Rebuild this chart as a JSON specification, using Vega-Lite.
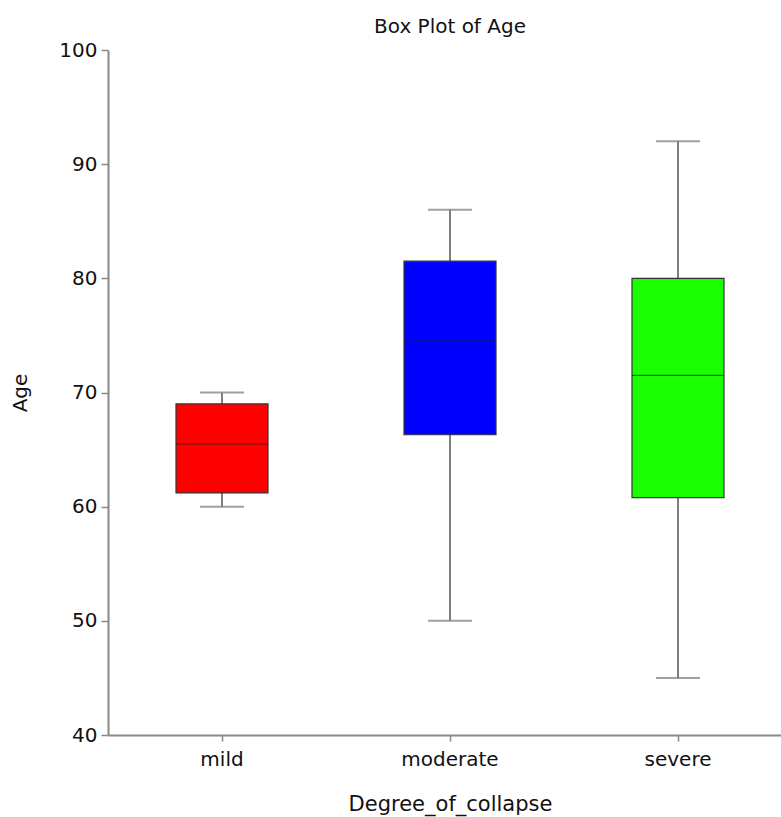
{
  "$schema": "https://vega.github.io/schema/vega-lite/v6.json",
  "autosize": {"type": "none"},
  "padding": {"left": 108, "top": 50, "right": 0, "bottom": 82},
  "width": 684,
  "height": 685,
  "background": "white",
  "title": {"text": "Box Plot of Age", "fontSize": 20, "fontWeight": "normal", "font": "DejaVu Sans", "color": "#111", "anchor": "middle", "offset": 3},
  "config": {
    "view": {"stroke": null},
    "font": "DejaVu Sans"
  },
  "data": {"values": [
    {"Degree_of_collapse": "mild", "min": 60, "q1": 61.2, "median": 65.5, "q3": 69, "max": 70, "color": "#ff0000"},
    {"Degree_of_collapse": "moderate", "min": 50, "q1": 66.3, "median": 74.5, "q3": 81.5, "max": 86, "color": "#0000ff"},
    {"Degree_of_collapse": "severe", "min": 45, "q1": 60.8, "median": 71.5, "q3": 80, "max": 92, "color": "#1aff00"}
  ]},
  "encoding": {
    "x": {
      "field": "Degree_of_collapse", "type": "nominal",
      "scale": {"paddingInner": 0, "paddingOuter": 0},
      "axis": {
        "labelAngle": 0, "labelFontSize": 20, "labelColor": "#111", "labelPadding": 8,
        "domainColor": "#888", "domainWidth": 2, "tickColor": "#888", "tickSize": 6, "tickWidth": 1.5,
        "titleFontSize": 21, "titleFontWeight": "normal", "titleColor": "#111", "titlePadding": 24
      }
    }
  },
  "layer": [
    {
      "mark": {"type": "rule", "color": "#555", "strokeWidth": 1.5},
      "encoding": {
        "y": {"field": "min", "type": "quantitative", "scale": {"domain": [40, 100], "nice": false, "zero": false},
          "title": "Age",
          "axis": {"values": [40, 50, 60, 70, 80, 90, 100], "grid": false, "labelFontSize": 20, "labelColor": "#111", "labelPadding": 4,
            "domainColor": "#888", "domainWidth": 2, "tickColor": "#888", "tickSize": 7, "tickWidth": 1.5,
            "titleFontSize": 20, "titleFontWeight": "normal", "titleColor": "#111", "titlePadding": 28}},
        "y2": {"field": "max"}
      }
    },
    {
      "mark": {"type": "tick", "color": "#777", "size": 44, "thickness": 2},
      "encoding": {"y": {"field": "min", "type": "quantitative"}}
    },
    {
      "mark": {"type": "tick", "color": "#777", "size": 44, "thickness": 2},
      "encoding": {"y": {"field": "max", "type": "quantitative"}}
    },
    {
      "mark": {"type": "bar", "size": 92, "stroke": "#333", "strokeWidth": 1.2},
      "encoding": {
        "y": {"field": "q1", "type": "quantitative"},
        "y2": {"field": "q3"},
        "color": {"field": "color", "type": "nominal", "scale": null}
      }
    },
    {
      "mark": {"type": "tick", "color": "#222", "size": 92, "thickness": 1.2},
      "encoding": {"y": {"field": "median", "type": "quantitative"}}
    }
  ]
}
